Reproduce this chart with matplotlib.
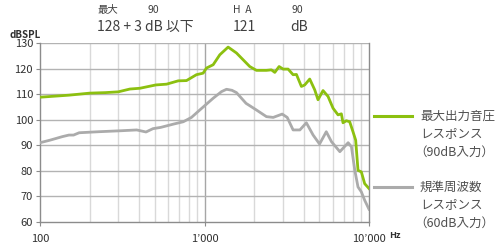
import matplotlib
matplotlib.use("Agg")
import matplotlib.pyplot as plt
from matplotlib.ticker import FixedLocator, NullFormatter

plt.rcParams['font.family'] = ['Noto Sans CJK JP', 'DejaVu Sans']

# Maximum output response (90 dB input)
freq_max = [100, 150, 201, 250, 299, 352, 405, 506, 588, 692, 777, 893, 981, 1028,
            1129, 1239, 1392, 1564, 1884, 2069, 2380, 2552, 2675, 2841, 3004, 3222,
            3456, 3622, 3882, 4066, 4362, 4677, 4898, 5255, 5636, 6045, 6482, 6792,
            6950, 7283, 7632, 7993, 8299, 8574, 8982, 9412, 10000]
spl_max = [108.8, 109.6, 110.4, 110.6, 110.9, 112.0, 112.3, 113.6, 113.9, 115.2, 115.3,
           117.6, 118.2, 120.2, 121.5, 125.4, 128.4, 126.1, 120.8, 119.3, 119.3, 119.5,
           118.5, 120.8, 119.8, 119.8, 117.6, 117.7, 113.0, 113.6, 115.9, 111.7, 107.8,
           111.4, 109.1, 104.5, 101.9, 102.3, 98.8, 99.6, 99.2, 95.3, 92.0, 80.2, 79.6,
           75.0, 73.1]

# Reference frequency response (60 dB input)
freq_ref = [100, 115, 137, 150, 160, 173, 227, 314, 387, 441, 486, 542, 649, 743,
            833, 936, 1129, 1270, 1361, 1469, 1564, 1789, 2069, 2380, 2617, 2966,
            3183, 3456, 3800, 4160, 4574, 5005, 5499, 5916, 6650, 7467, 7823, 8194,
            8574, 8982, 9412, 10000]
spl_ref = [91.0, 92.0, 93.4, 94.0, 94.0, 94.9, 95.3, 95.7, 96.0, 95.2, 96.5, 97.0,
           98.3, 99.2, 100.9, 103.8, 108.4, 111.0, 111.9, 111.5, 110.6, 106.4, 103.8,
           101.2, 100.9, 102.2, 100.9, 96.0, 96.0, 98.8, 94.0, 90.5, 95.3, 91.4, 87.5,
           91.0, 89.4, 80.3, 73.7, 71.8, 68.5, 65.0]

y_ticks = [60, 70, 80, 90, 100, 110, 120, 130]
x_major = [100, 1000, 10000]
x_labels = ["100", "1\u2019000", "10\u2019000"]
x_minor = [200, 300, 400, 500, 600, 700, 800, 900,
           2000, 3000, 4000, 5000, 6000, 7000, 8000, 9000]

legend_labels = [["最大出力音圧", "レスポンス", "（90dB入力）"],
                 ["規準周波数", "レスポンス", "（60dB入力）"]]

W, H = 503, 246
fig = plt.figure(figsize=(W / 100, H / 100), dpi=100)
ax = fig.add_axes([40 / W, 1 - 222 / H, (369 - 40) / W, (222 - 43) / H])

ax.set_xscale('log')
ax.set_xlim(100, 10000)
ax.set_ylim(60, 130)

# grid
for f in x_minor:
    ax.axvline(f, color='#d9d9d9', lw=1.0, zorder=1)
ax.axvline(1000, color='#a6a6a6', lw=1.0, zorder=1)
for y in y_ticks[1:]:
    ax.axhline(y, color='#b3b3b3', lw=1.0, zorder=1)

green = '#8cc010'
grey = '#ababab'
ax.plot(freq_ref, spl_ref, color=grey, lw=2.0, zorder=3, solid_joinstyle='round')
ax.plot(freq_max, spl_max, color=green, lw=2.0, zorder=4, solid_joinstyle='round')

ax.xaxis.set_major_locator(FixedLocator(x_major))
ax.xaxis.set_minor_locator(FixedLocator(x_minor))
ax.xaxis.set_minor_formatter(NullFormatter())
ax.set_xticks(x_major)
ax.set_xticklabels(x_labels)
ax.set_yticks(y_ticks)
ax.set_yticklabels([str(v) for v in y_ticks])
ax.tick_params(axis='both', labelsize=8, length=3, width=0.8, direction='out',
               colors='#8c8c8c', labelcolor='#303030')
ax.tick_params(axis='x', which='minor', length=0)
ax.tick_params(axis='x', pad=6)
ax.tick_params(axis='y', pad=2)

for s in ['left', 'bottom', 'right']:
    ax.spines[s].set_color('#8c8c8c')
    ax.spines[s].set_linewidth(1.0)
ax.spines['top'].set_visible(False)

# header texts
def ftext(x, y, s, size, color='#404040', **kw):
    fig.text(x / W, 1 - y / H, s, fontsize=size, va='center', ha='left',
             color=color, **kw)

ftext(97, 10, "最大", 7.5)
ftext(148, 10, "90", 7.5)
ftext(233, 10, "H  A", 7.5)
ftext(291, 10, "90", 7.5)
ftext(97, 27, "128 + 3 dB 以下", 10)
ftext(233, 27, "121", 10)
ftext(290, 27, "dB", 10)
ftext(10, 35, "dBSPL", 7, color='#303030', fontweight='bold')
ftext(389, 235, "Hz", 6.5, color='#303030', fontweight='bold')

# legend
for (ly, col, lines) in [(116, green, legend_labels[0]), (187, grey, legend_labels[1])]:
    fig.add_artist(plt.Line2D([374 / W, 412 / W], [1 - ly / H, 1 - ly / H],
                              color=col, lw=2.2, transform=fig.transFigure))
    for i, t in enumerate(lines):
        x0 = 420 if i < 2 else 414
        ftext(x0, ly + 18 * i, t, 9, color='#505050')

fig.savefig("out.png", dpi=100)
